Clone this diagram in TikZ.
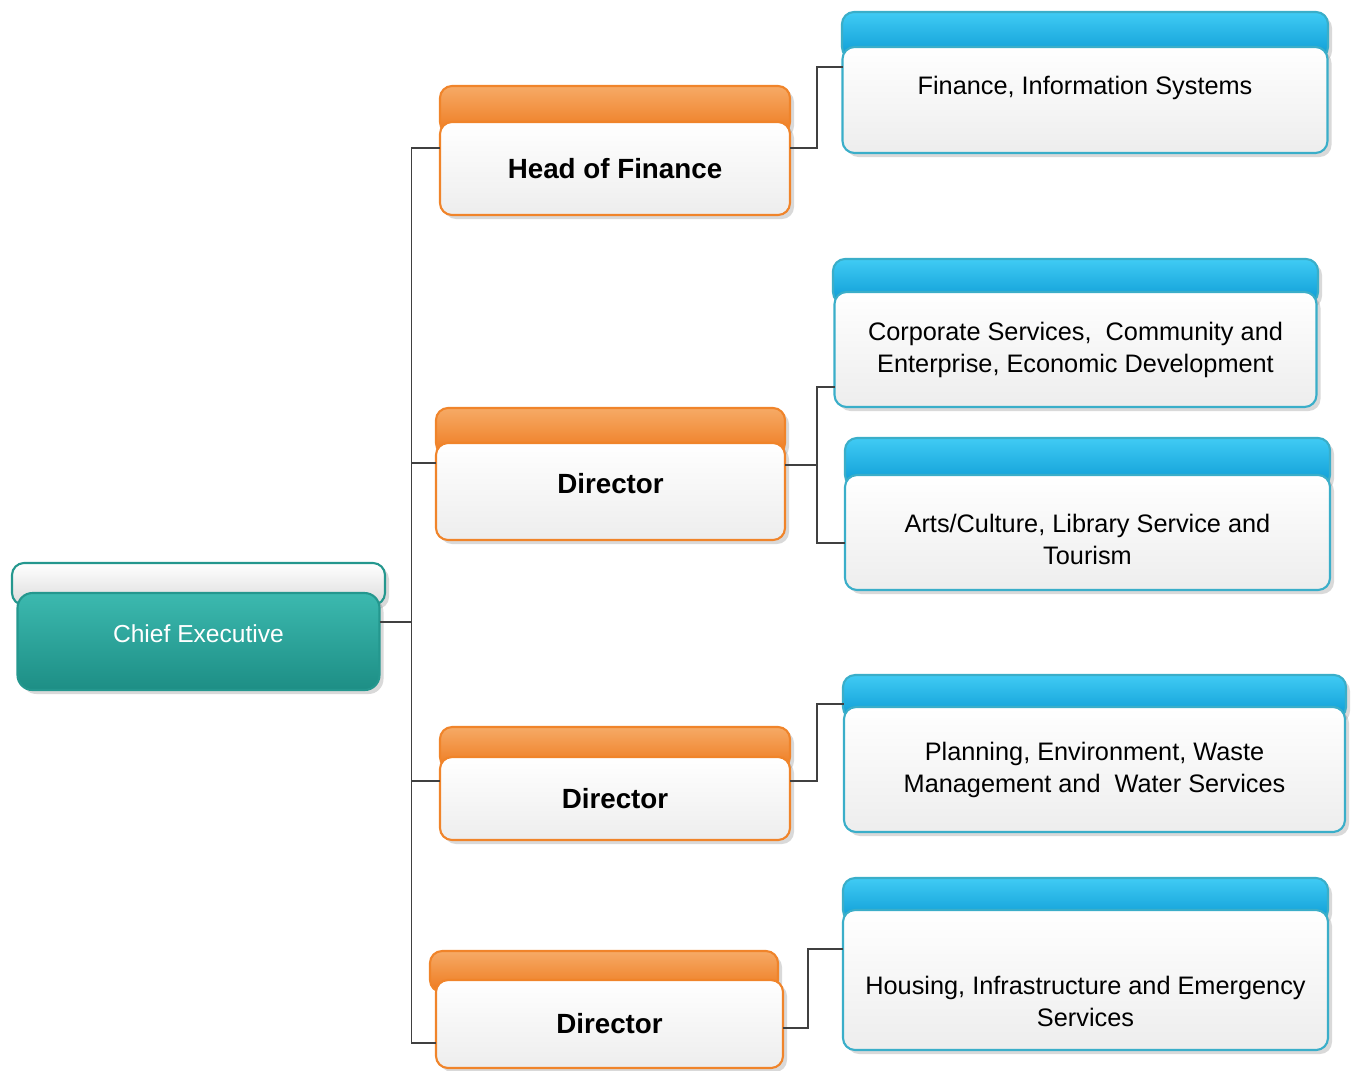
\documentclass[tikz,border=0pt]{standalone}
\usepackage{fontspec}
\setmainfont{Liberation Sans}
\usetikzlibrary{positioning,shadows}

\definecolor{capor1}{HTML}{F6AA66}
\definecolor{capor2}{HTML}{EE7A1E}
\definecolor{lineor}{HTML}{F0842A}
\definecolor{capbl1}{HTML}{40CBF4}
\definecolor{capbl2}{HTML}{0B9AD4}
\definecolor{linebl}{HTML}{3AAEC9}
\definecolor{teal1}{HTML}{3CB9AF}
\definecolor{teal2}{HTML}{1D8E85}
\definecolor{linetl}{HTML}{24978E}

\tikzset{
	softshadow/.style={drop shadow={opacity=0.3, shadow xshift=0.04cm, shadow yshift=-0.04cm}},
	capbox/.style={rectangle, rounded corners=0.12cm, inner sep=0pt, outer sep=0pt, anchor=north, line width=0.6pt, softshadow},
	orangecap/.style={capbox, draw=lineor, top color=capor1, bottom color=capor2},
	bluecap/.style={capbox, draw=linebl, top color=capbl1, bottom color=capbl2},
	greycap/.style={capbox, draw=linetl, top color=white, bottom color=gray!28},
	box/.style={rectangle, rounded corners=0.12cm, inner sep=0pt, outer sep=0pt, align=center, line width=0.6pt, top color=white, bottom color=gray!14, softshadow},
	headbox/.style={box, draw=lineor, font=\fontsize{7.9}{9.5}\selectfont\bfseries},
	unitbox/.style={box, draw=linebl, font=\fontsize{7.2}{9.1}\selectfont},
	chiefbox/.style={box, rounded corners=0.15cm, draw=linetl, top color=teal1, bottom color=teal2, text=white, font=\fontsize{7.0}{9}\selectfont},
	conn/.style={draw=black!75, line width=0.45pt},
}

\begin{document}
\begin{tikzpicture}
	\useasboundingbox (0,0) rectangle (13.54,-10.70);

	\node[greycap, minimum width=3.73cm, minimum height=0.42cm] (chiefcap) at (1.985,-5.63) {};
	\node[chiefbox, minimum width=3.62cm, minimum height=0.97cm, text depth=0.15cm, below=-0.12cm of chiefcap] (chief) {Chief Executive};

	\node[orangecap, minimum width=3.50cm, minimum height=0.48cm] (hofcap) at (6.15,-0.86) {};
	\node[headbox, minimum width=3.50cm, minimum height=0.93cm, below=-0.12cm of hofcap] (hof) {Head of Finance};

	\node[orangecap, minimum width=3.49cm, minimum height=0.47cm] (d1cap) at (6.105,-4.08) {};
	\node[headbox, minimum width=3.49cm, minimum height=0.97cm, text depth=0.16cm, below=-0.12cm of d1cap] (d1) {Director};

	\node[orangecap, minimum width=3.50cm, minimum height=0.42cm] (d2cap) at (6.15,-7.27) {};
	\node[headbox, minimum width=3.50cm, minimum height=0.83cm, below=-0.12cm of d2cap] (d2) {Director};

	\node[orangecap, minimum width=3.48cm, minimum height=0.41cm] (d3cap) at (6.04,-9.51) {};
	\node[headbox, minimum width=3.47cm, minimum height=0.88cm, below=-0.12cm of d3cap, xshift=0.055cm] (d3) {Director};

	\node[bluecap, minimum width=4.86cm, minimum height=0.47cm] (fincap) at (10.85,-0.12) {};
	\node[unitbox, minimum width=4.85cm, minimum height=1.06cm, text depth=0.30cm, below=-0.12cm of fincap] (fin) {Finance, Information Systems};

	\node[bluecap, minimum width=4.85cm, minimum height=0.45cm] (corpcap) at (10.755,-2.59) {};
	\node[unitbox, minimum width=4.82cm, minimum height=1.15cm, below=-0.12cm of corpcap] (corp) {Corporate Services,\ \ Community and\\Enterprise, Economic Development};

	\node[bluecap, minimum width=4.85cm, minimum height=0.49cm] (artscap) at (10.875,-4.38) {};
	\node[unitbox, minimum width=4.85cm, minimum height=1.15cm, below=-0.12cm of artscap] (arts) {\rule{0pt}{0.33cm}Arts/Culture, Library Service and\\Tourism};

	\node[bluecap, minimum width=5.03cm, minimum height=0.44cm] (plancap) at (10.945,-6.75) {};
	\node[unitbox, minimum width=5.01cm, minimum height=1.25cm, below=-0.12cm of plancap] (plan) {Planning, Environment, Waste\\Management and\ \ Water Services};

	\node[bluecap, minimum width=4.85cm, minimum height=0.44cm] (houscap) at (10.855,-8.78) {};
	\node[unitbox, minimum width=4.85cm, minimum height=1.40cm, below=-0.12cm of houscap] (hous) {\rule{0pt}{0.62cm}Housing, Infrastructure and Emergency\\Services};

	\draw[conn] ([yshift=0.195cm]chief.east) -- ++(0.32,0) coordinate (trunk);
	\draw[conn] ([yshift=0.205cm]hof.west) -| (trunk) |- ([yshift=-0.19cm]d3.west);
	\draw[conn] ([yshift=0.285cm]d1.west) -| (trunk);
	\draw[conn] ([yshift=0.175cm]d2.west) -| (trunk);

	\draw[conn] ([yshift=0.205cm]hof.east) -- ++(0.27,0) |- ([yshift=0.33cm]fin.west);
	\draw[conn] ([yshift=0.265cm]d1.east) -- ++(0.32,0) coordinate (d1j);
	\draw[conn] ([yshift=-0.375cm]corp.west) -| (d1j) |- ([yshift=-0.105cm]arts.west);
	\draw[conn] ([yshift=0.175cm]d2.east) -- ++(0.27,0) |- ([yshift=0.655cm]plan.west);
	\draw[conn] ([yshift=-0.04cm]d3.east) -- ++(0.25,0) |- ([yshift=0.31cm]hous.west);
\end{tikzpicture}
\end{document}
